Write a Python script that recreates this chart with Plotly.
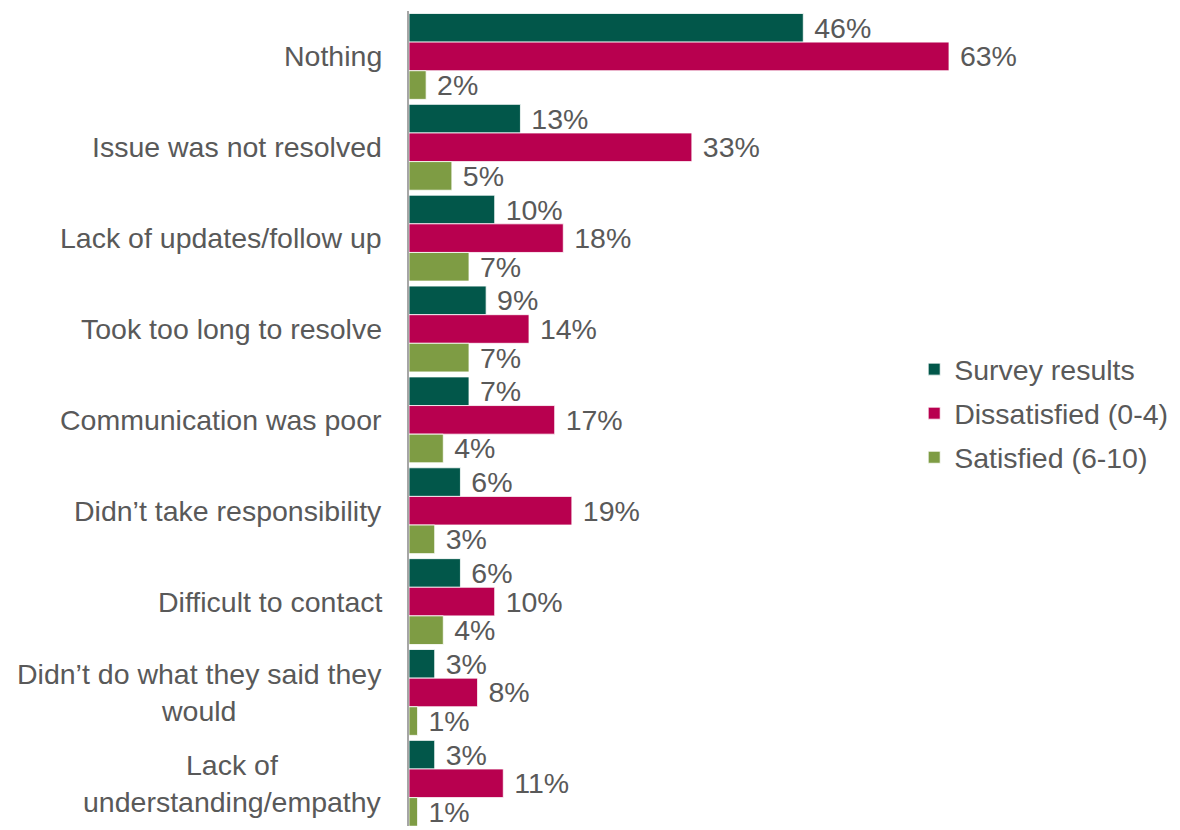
import plotly.graph_objects as go

categories = [
    "Nothing",
    "Issue was not resolved",
    "Lack of updates/follow up",
    "Took too long to resolve",
    "Communication was poor",
    "Didn\u2019t take responsibility",
    "Difficult to contact",
    "Didn\u2019t do what they said they<br>would",
    "Lack of<br>understanding/empathy",
]
survey = [46, 13, 10, 9, 7, 6, 6, 3, 3]
dissatisfied = [63, 33, 18, 14, 17, 19, 10, 8, 11]
satisfied = [2, 5, 7, 7, 4, 3, 4, 1, 1]

series = [
    ("Survey results", survey, "#02574A"),
    ("Dissatisfied (0-4)", dissatisfied, "#B8004F"),
    ("Satisfied (6-10)", satisfied, "#7E9C44"),
]

FONT = "Liberation Sans, Arial, sans-serif"
GRAY = "#595959"
FS = 28.5

fig = go.Figure()
for i, (name, vals, color) in enumerate(series):
    fig.add_trace(go.Bar(
        y=categories, x=vals, name=name, orientation="h",
        legendgroup=f"g{i}",
        marker=dict(color=color, line=dict(color="white", width=0.8)),
        text=[f"{v}%" for v in vals],
        texttemplate="\u00a0%{text}",
        textposition="outside",
        constraintext="none",
        textfont=dict(family=FONT, size=FS, color=GRAY),
        cliponaxis=False,
    ))

for c in categories:
    fig.add_annotation(
        x=0, xref="paper", y=c, yref="y", text=c, showarrow=False,
        xanchor="right", yanchor="middle", align="center", xshift=-25,
        font=dict(family=FONT, size=FS, color=GRAY),
    )

fig.update_layout(
    width=1180, height=830,
    margin=dict(l=409, r=171, t=11, b=4),
    paper_bgcolor="white", plot_bgcolor="white",
    barmode="group", bargap=0.055, bargroupgap=0,
    font=dict(family=FONT, size=FS, color=GRAY),
    showlegend=True,
    legend=dict(
        x=0.842, xanchor="left", y=0.506, yanchor="middle",
        font=dict(family=FONT, size=FS, color=GRAY),
        bgcolor="rgba(0,0,0,0)", traceorder="grouped", tracegroupgap=4,
    ),
)
fig.update_xaxes(range=[0, 70], visible=False, showgrid=False, zeroline=False)
fig.update_yaxes(
    type="category", range=[8.47, -0.5], showticklabels=False,
    showline=True, linecolor="#A6A6A6", linewidth=2, ticks="",
    showgrid=False, zeroline=False,
)

fig.write_html("out.html")
